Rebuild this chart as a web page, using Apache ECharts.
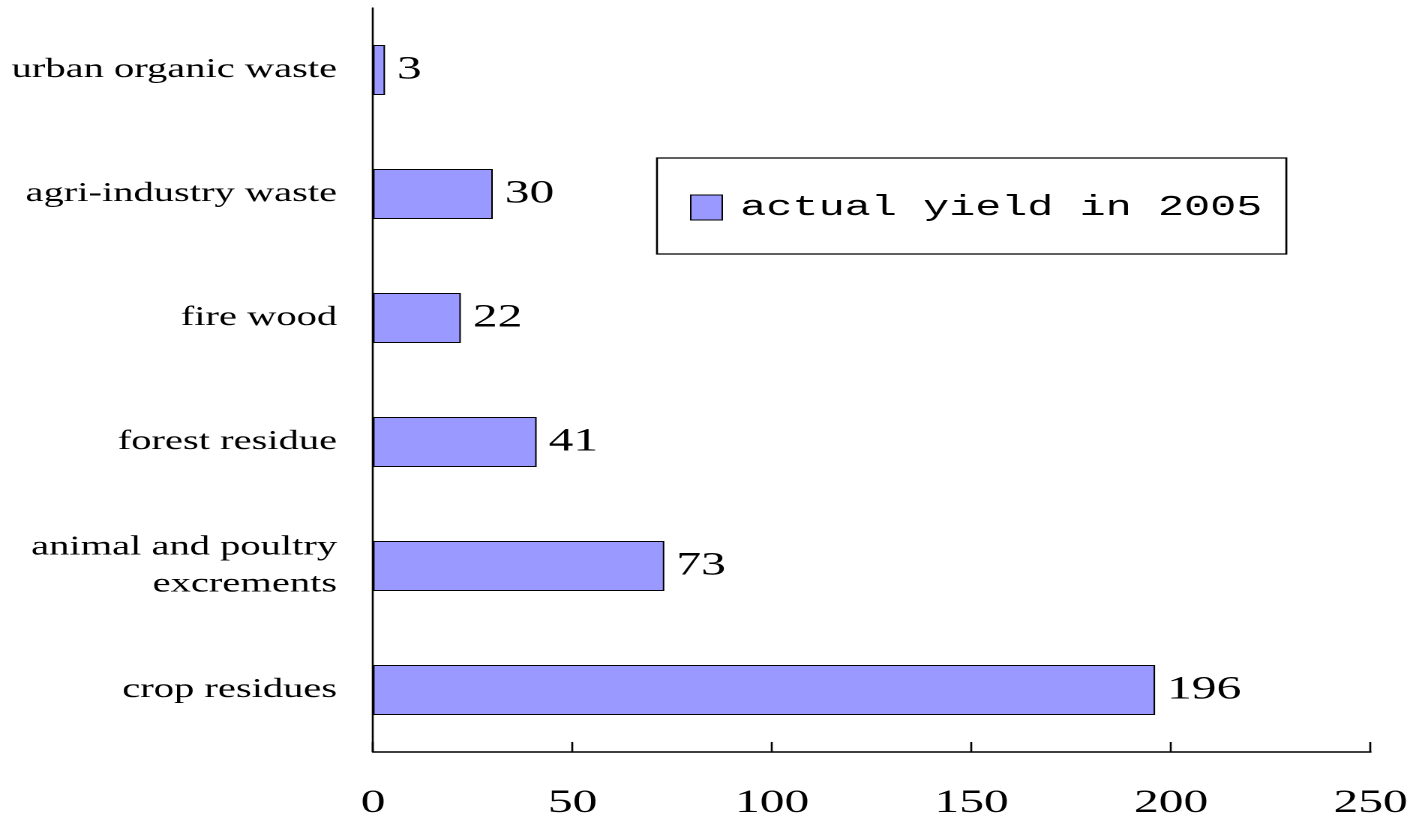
<!DOCTYPE html>
<html>
<head>
<meta charset="utf-8">
<script src="https://cdn.jsdelivr.net/npm/echarts@6/dist/echarts.min.js"></script>
<style>
  html, body { margin: 0; padding: 0; background: #fff; overflow: hidden; }
  /* the chart is laid out on a narrower canvas and widened horizontally */
  #chart { width: 946.67px; height: 828px; transform: scaleX(1.5); transform-origin: 0 0; }
</style>
</head>
<body>
<div id="chart"></div>
<script>
// Biomass resource categories, listed bottom to top
const categories = [
  'crop residues',
  'animal and poultry\nexcrements',
  'forest residue',
  'fire wood',
  'agri-industry waste',
  'urban organic waste'
];
const seriesName = 'actual yield in 2005';
const yieldValues = [196, 73, 41, 22, 30, 3];
const xTicks = { min: 0, max: 250, interval: 50 };

const chart = echarts.init(document.getElementById('chart'), null, { renderer: 'canvas', devicePixelRatio: 2 });

chart.setOption({
  backgroundColor: '#ffffff',
  animation: false,
  grid: { left: 248.7, right: 33.3, top: 8, bottom: 76, containLabel: false, outerBoundsMode: 'none' },
  legend: {
    data: [seriesName],
    left: 438,
    top: 158,
    orient: 'horizontal',
    icon: 'rect',
    itemWidth: 21,
    itemHeight: 25,
    padding: [35, 16, 32, 22],
    borderColor: '#000',
    borderWidth: 1.3,
    backgroundColor: '#fff',
    selectedMode: false,
    itemStyle: { color: '#9999FF', borderColor: '#000', borderWidth: 1 },
    textStyle: {
      fontFamily: '"Liberation Mono", monospace',
      fontSize: 29,
      color: '#000',
      padding: [4, 0, 0, 7]
    }
  },
  xAxis: {
    type: 'value',
    min: xTicks.min,
    max: xTicks.max,
    interval: xTicks.interval,
    splitLine: { show: false },
    axisLine: { show: true, lineStyle: { color: '#000', width: 1.5 } },
    axisTick: { show: true, inside: true, length: 10, lineStyle: { color: '#000', width: 1.3 } },
    axisLabel: {
      margin: 35,
      fontFamily: '"Liberation Serif", serif',
      fontSize: 33,
      color: '#000'
    }
  },
  yAxis: {
    type: 'category',
    data: categories,
    axisLine: { show: true, onZero: false, lineStyle: { color: '#000', width: 1.3 } },
    axisTick: { show: false },
    splitLine: { show: false },
    axisLabel: {
      margin: 24,
      fontFamily: '"Liberation Serif", serif',
      fontSize: 27,
      lineHeight: 37,
      color: '#000',
      align: 'right'
    }
  },
  series: [{
    name: seriesName,
    type: 'bar',
    data: yieldValues,
    barWidth: 50,
    itemStyle: { color: '#9999FF', borderColor: '#000', borderWidth: 1 },
    label: {
      show: true,
      position: 'right',
      distance: 8,
      fontFamily: '"Liberation Serif", serif',
      fontSize: 33,
      color: '#000'
    }
  }]
});
</script>
</body>
</html>
